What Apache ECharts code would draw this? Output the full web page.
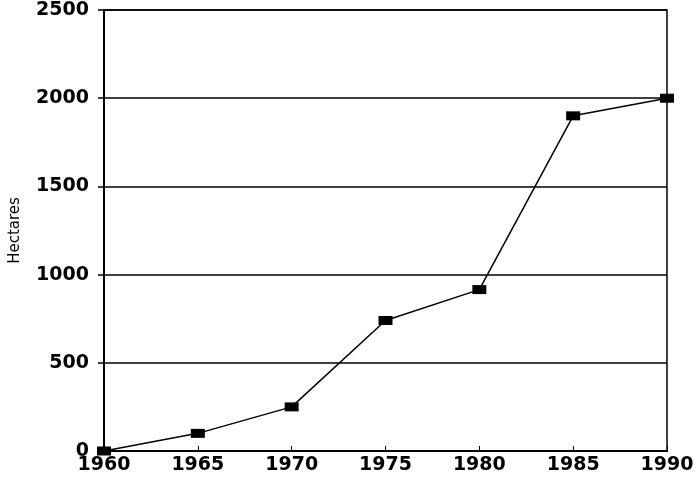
<!DOCTYPE html>
<html><head><meta charset="utf-8">
<script src="https://cdn.jsdelivr.net/npm/echarts@6/dist/echarts.min.js"></script>
<style>html,body{margin:0;padding:0;background:#fff}#c{width:697px;height:488px}</style>
</head><body><div id="c"></div>
<script>
const years = [1960, 1965, 1970, 1975, 1980, 1985, 1990];
const hectares = [0, 100, 250, 740, 915, 1900, 2000];
const yTicks = [0, 500, 1000, 1500, 2000, 2500];
const yName = 'Hectares';

const chart = echarts.init(document.getElementById('c'), null, {renderer: 'canvas'});
const font = {fontFamily: 'DejaVu Sans', fontWeight: 'bold', fontSize: 19, color: '#000'};
chart.setOption({
  animation: false,
  backgroundColor: '#fff',
  grid: {left: 104, right: 30, top: 10, bottom: 37, containLabel: false, outerBoundsMode: 'none',
         show: true, borderColor: '#000', borderWidth: 1.5, backgroundColor: 'transparent'},
  xAxis: {
    type: 'value', min: years[0], max: years[years.length - 1], interval: 5,
    axisLine: {lineStyle: {color: '#000', width: 2}},
    axisTick: {inside: true, length: 5, lineStyle: {color: '#000', width: 1}},
    splitLine: {show: false},
    axisLabel: Object.assign({}, font, {margin: 5, formatter: v => String(v)})
  },
  yAxis: {
    type: 'value', min: yTicks[0], max: yTicks[yTicks.length - 1], interval: 500,
    name: yName, nameLocation: 'middle', nameGap: 81, nameRotate: 90,
    nameTextStyle: {fontFamily: 'DejaVu Sans', fontSize: 15, color: '#000'},
    axisLine: {show: true, lineStyle: {color: '#000', width: 2}},
    axisTick: {show: true, inside: false, length: 6, lineStyle: {color: '#000', width: 1.5}},
    splitLine: {lineStyle: {color: '#000', width: 1.5}},
    axisLabel: Object.assign({}, font, {margin: 15, formatter: v => String(v)})
  },
  series: [{
    type: 'line',
    data: years.map((y, i) => [y, hectares[i]]),
    lineStyle: {color: '#000', width: 1.5},
    itemStyle: {color: '#000'},
    symbol: 'rect', symbolSize: [14, 9],
    clip: false
  }]
});
</script></body></html>
